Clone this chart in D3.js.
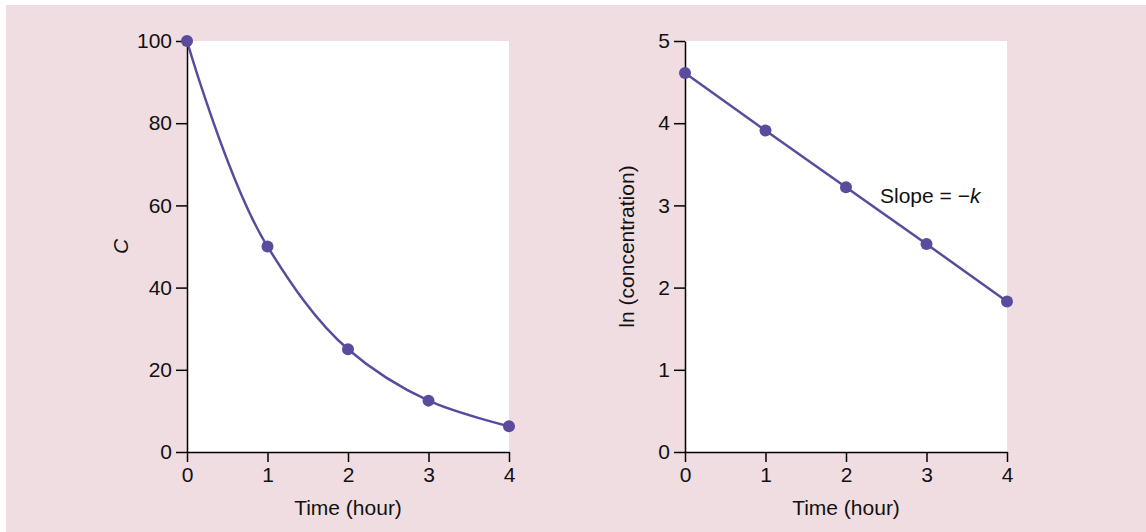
<!DOCTYPE html>
<html>
<head>
<meta charset="utf-8">
<script src="https://cdn.jsdelivr.net/npm/d3@7"></script>
<style>
  body { margin: 0; background: #fff; }
  svg { display: block; }
</style>
</head>
<body>
<svg id="chart" width="1146" height="532"></svg>
<script>
const hours = [0, 1, 2, 3, 4];
const concentration = [100, 50, 25, 12.5, 6.25];
const lnConcentration = [4.61, 3.91, 3.22, 2.53, 1.83];
const leftYTicks = [0, 20, 40, 60, 80, 100];
const rightYTicks = [0, 1, 2, 3, 4, 5];

const lineColor = "#5a4b9c";
const font = "'Liberation Sans', Arial, sans-serif";
const fontSize = "21px";

const svg = d3.select("#chart");
svg.append("rect").attr("x", 6).attr("y", 5).attr("width", 1140).attr("height", 527).attr("fill", "#f0dde2");

function drawPanel(opts) {
    const x = d3.scaleLinear().domain([0, 4]).range([opts.left, opts.left + 322]);
    const y = d3.scaleLinear().domain(opts.yDomain).range([452, 41]);

    // white plot area
    svg.append("rect")
        .attr("x", x(0)).attr("y", y(opts.yDomain[1]))
        .attr("width", x(4) - x(0)).attr("height", y(opts.yDomain[0]) - y(opts.yDomain[1]))
        .attr("fill", "#fff");

    const xAxis = svg.append("g")
        .attr("transform", `translate(0,${y(0)})`)
        .call(d3.axisBottom(x).tickValues(hours).tickFormat(d3.format("d"))
            .tickSize(10).tickSizeOuter(0).tickPadding(5));
    const yAxis = svg.append("g")
        .attr("transform", `translate(${x(0)},0)`)
        .call(d3.axisLeft(y).tickValues(opts.yTicks).tickFormat(d3.format("d"))
            .tickSize(11).tickSizeOuter(0).tickPadding(4));
    [xAxis, yAxis].forEach(a => {
        a.select(".domain").attr("stroke", "#000").attr("stroke-width", 1.5);
        a.selectAll(".tick line").attr("stroke", "#000").attr("stroke-width", 1.5);
        a.selectAll(".tick text")
            .style("font-family", font)
            .style("font-size", fontSize)
            .attr("fill", "#111");
    });

    const pts = hours.map((h, i) => [h, opts.values[i]]);
    const line = d3.line()
        .x(d => x(d[0])).y(d => y(d[1]))
        .curve(opts.curve);
    svg.append("path")
        .datum(pts)
        .attr("d", line)
        .attr("fill", "none")
        .attr("stroke", lineColor)
        .attr("stroke-width", 2.5);
    svg.append("g").selectAll("circle")
        .data(pts)
        .enter()
        .append("circle")
        .attr("cx", d => x(d[0]))
        .attr("cy", d => y(d[1]))
        .attr("r", 6)
        .attr("fill", lineColor);

    svg.append("text")
        .attr("x", (x(0) + x(4)) / 2)
        .attr("y", 515)
        .attr("text-anchor", "middle")
        .style("font-family", font)
        .style("font-size", fontSize)
        .attr("fill", "#111")
        .text("Time (hour)");

    const yt = svg.append("text")
        .attr("transform", `translate(${opts.yLabelX},${(y(opts.yDomain[0]) + y(opts.yDomain[1])) / 2}) rotate(-90)`)
        .attr("text-anchor", "middle")
        .style("font-family", font)
        .style("font-size", fontSize)
        .attr("fill", "#111")
        .text(opts.yLabel);
    if (opts.italic) yt.style("font-style", "italic");
    return { x, y };
}

drawPanel({ left: 187, yDomain: [0, 100], yTicks: leftYTicks, values: concentration,
    curve: d3.curveCatmullRom.alpha(1), yLabel: "C", yLabelX: 128, italic: true });
drawPanel({ left: 685, yDomain: [0, 5], yTicks: rightYTicks, values: lnConcentration,
    curve: d3.curveLinear, yLabel: "ln (concentration)", yLabelX: 634 });

const slope = svg.append("text")
    .attr("x", 880)
    .attr("y", 203)
    .style("font-family", font)
    .style("font-size", fontSize)
    .attr("fill", "#111");
slope.append("tspan").text("Slope = \u2212");
slope.append("tspan").style("font-style", "italic").text("k");
</script>
</body>
</html>
